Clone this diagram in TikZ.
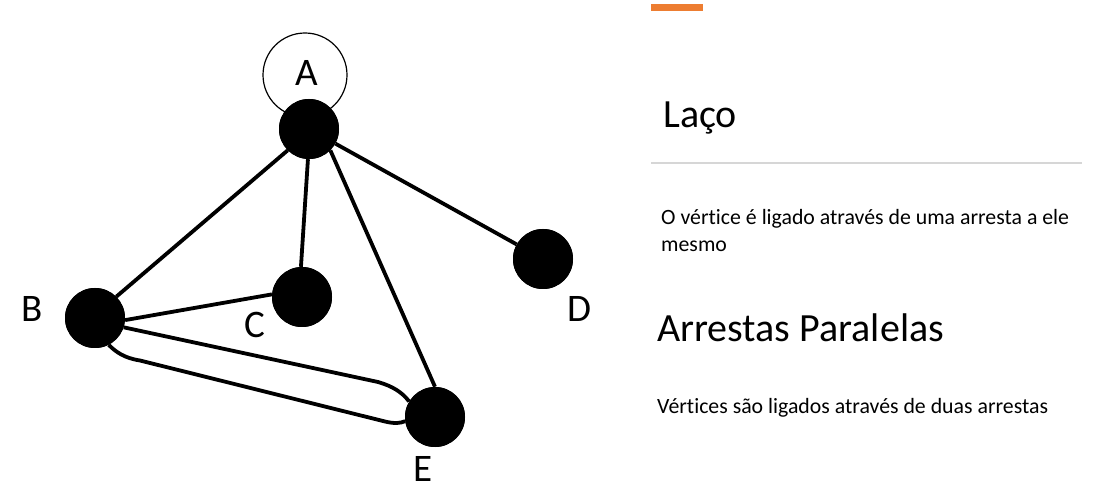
\documentclass[tikz,border=0pt]{standalone}
\usepackage{fontspec}
\setmainfont{Carlito}[Ligatures=NoCommon]
\definecolor{accent}{HTML}{ED7D31}
\definecolor{rule}{HTML}{D6D6D6}
\begin{document}
\begin{tikzpicture}[x=1pt,y=1pt,
  ball/.style={circle,fill=black,draw=none,minimum size=60pt,inner sep=0pt},
  edge/.style={line width=3.8pt,black},
  vlabel/.style={font=\fontsize{39}{39}\selectfont,anchor=base,inner sep=0pt},
  heading/.style={font=\fontsize{40}{40}\selectfont,anchor=base west,inner sep=0pt},
  body/.style={font=\fontsize{21.8}{21.8}\selectfont,anchor=base west,inner sep=0pt}]
\useasboundingbox (0,0) rectangle (1094,487);
% loop
\node[circle,draw=black,line width=1.2pt,minimum size=84pt,inner sep=0pt] (loop) at (305,412) {};
% vertices
\node[ball] (A) at (309,358) {};
\node[ball] (B) at (95,169) {};
\node[ball] (C) at (302,190) {};
\node[ball] (D) at (543,228) {};
\node[ball] (E) at (435,70) {};
% edges
\draw[edge] (A.225) -- (B.45);
\draw[edge] (A.-92) -- (C.92);
\draw[edge] (A.-29) -- (D.151);
\draw[edge] (A.-45) -- (E.90);
\draw[edge] (B.-4) -- (C.175);
\draw[edge] (B.-18) -- (378,105) .. controls (392,101) and (402,95) .. (E.149);
\draw[edge] (B.-63) .. controls (116,135) and (124,129) .. (140,126.5) -- (385,65.5) .. controls (395,63) and (401,64) .. (E.188);
% balls drawn again on top of the edge ends
\foreach \n in {A,B,C,D,E}{\fill[black] (\n) circle[radius=30pt];}
% labels
\node[vlabel] (lA) at (306.5,401) {A};
\node[vlabel] (lB) at (32.5,165) {B};
\node[vlabel] (lC) at (255,149) {C};
\node[vlabel] (lD) at (579.5,165) {D};
\node[vlabel] (lE) at (423,6) {E};
% right side
\fill[accent] (651,476) rectangle (703,483);
\node[heading] (t1) at (663,359) {Laço};
\draw[rule,line width=1.5pt] (651,324) -- (1082,324);
\node[body] (b1) at (661,262) {O vértice é ligado através de uma arresta a ele};
\node[body] (b2) at (661,235) {mesmo};
\node[heading] (t2) at (657,145) {Arrestas Paralelas};
\node[body] (b3) at (657,74) {Vértices são ligados através de duas arrestas};
\end{tikzpicture}
\end{document}
